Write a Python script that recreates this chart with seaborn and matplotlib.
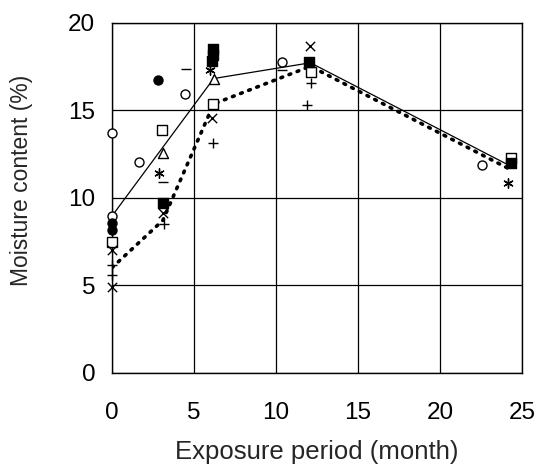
import matplotlib
matplotlib.use("Agg")
import matplotlib.pyplot as plt
import seaborn as sns
import pandas as pd

sns.set_style("white")
plt.rcParams["font.family"] = ["Liberation Sans", "DejaVu Sans"]

# Individual specimen readings, grouped by marker symbol
open_circle_x = [0, 0, 1.65, 4.45, 10.35, 22.54]
open_circle_y = [8.95, 13.7, 12.06, 15.93, 17.77, 11.87]

filled_circle_x = [0, 0, 2.79]
filled_circle_y = [8.54, 8.15, 16.69]

open_square_x = [0, 3.03, 6.18, 12.13, 24.31]
open_square_y = [7.49, 13.87, 15.35, 17.2, 12.25]

filled_square_x = [3.13, 6.14, 6.14, 6.1, 12.03, 24.31]
filled_square_y = [9.68, 18.5, 18.15, 17.8, 17.75, 11.95]

triangle_x = [3.09, 6.22]
triangle_y = [12.54, 16.77]

cross_x = [0, 0, 3.13, 6.08, 12.07]
cross_y = [7.01, 4.88, 9.11, 14.54, 18.63]

plus_x = [0, 0, 3.17, 6.18, 12.13, 11.87]
plus_y = [6.15, 5.58, 8.5, 13.14, 16.54, 15.3]

star_x = [2.87, 5.98, 24.17]
star_y = [11.39, 17.3, 10.86]

dash_x = [4.5, 3.13, 10.35]
dash_y = [17.34, 10.91, 17.3]

# Mean curves
solid_x = [0, 6.2, 12.1, 24.3]
solid_y = [8.95, 16.8, 17.7, 11.8]

dotted_x = [0, 3.1, 6.2, 12.1, 24.3]
dotted_y = [6.0, 8.7, 15.35, 17.5, 11.6]

fig = plt.figure(figsize=(5.37, 4.67), dpi=100)
ax = fig.add_axes([112 / 537, 1 - 372.7 / 467, 410 / 537, 350.2 / 467])

sns.lineplot(x=solid_x, y=solid_y, sort=False, color="black", lw=0.9, ax=ax)
sns.lineplot(x=dotted_x, y=dotted_y, sort=False, color="black", lw=2.6,
             linestyle=(0, (0.5, 1.9)), dash_capstyle="round", ax=ax)

groups = [
    (open_circle_x, open_circle_y, "o", "white", 42),
    (filled_circle_x, filled_circle_y, "o", "black", 42),
    (open_square_x, open_square_y, "s", "white", 52),
    (filled_square_x, filled_square_y, "s", "black", 52),
    (triangle_x, triangle_y, "^", "white", 52),
    (cross_x, cross_y, "x", "black", 45),
    (plus_x, plus_y, "+", "black", 50),
    (star_x, star_y, (6, 2, 0), "black", 45),
    (dash_x, dash_y, "_", "black", 50),
]
for xs, ys, m, fc, s in groups:
    df = pd.DataFrame({"x": xs, "y": ys})
    if m in ("x", "+", "_") or isinstance(m, tuple):
        sns.scatterplot(data=df, x="x", y="y", marker=m, color="black",
                        s=s, linewidth=1.0, ax=ax, clip_on=False, zorder=3)
    else:
        sns.scatterplot(data=df, x="x", y="y", marker=m, facecolor=fc,
                        edgecolor="black", s=s, linewidth=1.0, ax=ax,
                        clip_on=False, zorder=3)

ax.set_xlim(0, 25)
ax.set_ylim(0, 20)
ax.set_xticks([0, 5, 10, 15, 20, 25])
ax.set_yticks([0, 5, 10, 15, 20])
ax.grid(True, color="black", lw=0.9)
ax.set_axisbelow(True)
for sp in ax.spines.values():
    sp.set_color("black")
    sp.set_linewidth(1.0)
ax.tick_params(length=0, labelsize=17.5, colors="black")
ax.tick_params(axis="x", pad=21)
ax.tick_params(axis="y", pad=12)

ax.set_xlabel("Exposure period (month)", fontsize=18.5)
ax.set_ylabel("Moisture content (%)", fontsize=16.5)
ax.xaxis.set_label_coords(0.5, (372.7 - 452) / 350.2)
ax.xaxis.label.set_va("center")
ax.yaxis.set_label_coords((22 - 112) / 410, (372.7 - 180) / 350.2)
ax.yaxis.label.set_va("center")

fig.savefig("out.png", dpi=100)
